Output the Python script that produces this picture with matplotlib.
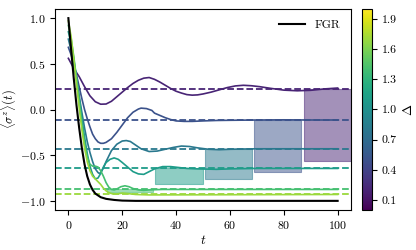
import matplotlib
matplotlib.use("Agg")
import matplotlib.pyplot as plt
import numpy as np
from matplotlib import cm, colors

plt.rcParams['font.family'] = 'serif'
plt.rcParams['font.serif'] = ['cmr10']
plt.rcParams['mathtext.fontset'] = 'cm'
plt.rcParams['axes.formatter.use_mathtext'] = True
plt.rcParams['font.size'] = 8.5

# ---- data ----
deltas = [0.2, 0.5, 0.8, 1.1, 1.4, 1.7]
levels = [0.22, -0.115, -0.43, -0.645, -0.875, -0.93]

t_a = [0, 2, 4, 6, 8, 10, 12, 14, 16, 18, 20, 22, 24, 26, 28, 30, 32, 34, 36, 38, 40, 42, 44, 46, 48, 50, 53, 56, 59, 62, 65, 68, 71, 75, 80, 85, 90, 95, 100]
y_a = [0.56, 0.45, 0.36, 0.25, 0.15, 0.085, 0.058, 0.06, 0.09, 0.14, 0.19, 0.24, 0.285, 0.32, 0.343, 0.35, 0.33, 0.30, 0.265, 0.23, 0.2, 0.18, 0.163, 0.157, 0.16, 0.17, 0.19, 0.215, 0.24, 0.258, 0.265, 0.26, 0.25, 0.232, 0.212, 0.205, 0.21, 0.225, 0.235]

t_b = [0, 1, 2, 3, 4, 5, 6, 7, 8, 9, 10, 11, 12, 13, 14, 16, 18, 20, 22, 24, 26, 27, 29, 31, 32, 34, 36, 38, 40, 43, 46, 50, 55, 60, 70, 80, 90, 100]
y_b = [0.68, 0.6, 0.5, 0.38, 0.25, 0.12, 0.0, -0.1, -0.19, -0.27, -0.32, -0.355, -0.37, -0.37, -0.36, -0.32, -0.25, -0.17, -0.09, -0.03, 0.005, 0.015, 0.01, -0.01, -0.04, -0.065, -0.09, -0.11, -0.125, -0.13, -0.13, -0.125, -0.12, -0.118, -0.115, -0.113, -0.115, -0.115]

t_c = [0, 1, 2, 3, 4, 5, 6, 7, 8, 9, 10, 11, 11.5, 12, 13, 14, 16, 18, 20, 21.5, 23, 25, 27, 30, 33, 36, 39, 42, 45, 48, 52, 56, 60, 70, 80, 90, 100]
y_c = [0.77, 0.65, 0.5, 0.33, 0.15, -0.03, -0.2, -0.35, -0.47, -0.57, -0.65, -0.69, -0.7, -0.69, -0.64, -0.57, -0.45, -0.38, -0.345, -0.34, -0.35, -0.39, -0.43, -0.46, -0.455, -0.435, -0.415, -0.40, -0.405, -0.42, -0.435, -0.44, -0.435, -0.43, -0.43, -0.43, -0.43]

t_d = [0, 1, 2, 3, 4, 5, 6, 7, 8, 9, 10, 11, 12, 13, 14, 15.5, 17, 18.5, 20, 22, 24, 26, 28, 30, 32, 35, 38, 41, 44, 48, 55, 60, 70, 100]
y_d = [0.85, 0.72, 0.55, 0.35, 0.13, -0.1, -0.3, -0.48, -0.62, -0.71, -0.76, -0.75, -0.7, -0.63, -0.58, -0.545, -0.53, -0.545, -0.58, -0.63, -0.68, -0.705, -0.71, -0.68, -0.65, -0.625, -0.625, -0.635, -0.645, -0.65, -0.655, -0.65, -0.645, -0.645]

t_e = [0, 1, 2, 3, 4, 5, 6, 7, 8, 9, 10, 11, 12, 13, 14, 15, 16, 17, 18, 19.5, 21, 22.5, 24, 26, 28, 30, 35, 100]
y_e = [0.92, 0.78, 0.58, 0.35, 0.1, -0.15, -0.37, -0.52, -0.6, -0.62, -0.62, -0.63, -0.67, -0.73, -0.8, -0.85, -0.875, -0.88, -0.87, -0.845, -0.835, -0.845, -0.865, -0.88, -0.885, -0.88, -0.875, -0.875]

t_f = [0, 1, 2, 3, 4, 5, 6, 7, 8, 9, 10, 11, 12, 13, 14, 15, 16, 18, 20, 22, 25, 30, 100]
y_f = [0.97, 0.8, 0.55, 0.28, 0.02, -0.22, -0.42, -0.57, -0.67, -0.73, -0.76, -0.79, -0.82, -0.86, -0.89, -0.91, -0.92, -0.925, -0.915, -0.92, -0.93, -0.935, -0.93]

t_fgr = [0, 1, 2, 3, 4, 5, 6, 7, 8, 9, 10, 12, 14, 17, 20, 25, 100]
y_fgr = [1.0, 0.66, 0.34, 0.05, -0.2, -0.42, -0.6, -0.73, -0.82, -0.88, -0.92, -0.96, -0.978, -0.99, -0.997, -1.0, -1.0]

curves_t = [t_a, t_b, t_c, t_d, t_e, t_f]
curves_y = [y_a, y_b, y_c, y_d, y_e, y_f]

# shaded windows: (series index, t_start, t_end, bottom)
rect_series = [0, 1, 2, 3, 4]
rect_start = [87.4, 69.0, 50.6, 32.3, 14.5]
rect_end = [105.0, 86.5, 68.3, 50.0, 31.5]
rect_bottom = [-0.56, -0.68, -0.76, -0.82, -0.90]

cbar_ticks = [0.1, 0.4, 0.7, 1.0, 1.3, 1.6, 1.9]

# ---- plot ----
fig = plt.figure(figsize=(4.16, 2.5), dpi=100)
ax = fig.add_axes([0.132, 0.16, 0.712, 0.804])
cax = fig.add_axes([0.870, 0.16, 0.024, 0.804])

norm = colors.Normalize(vmin=0.0, vmax=2.0)
cmap = plt.get_cmap('viridis')

for s, a, b, bot in zip(rect_series, rect_start, rect_end, rect_bottom):
    c = cmap(norm(deltas[s]))
    ax.fill_between([a, b], [bot, bot], [levels[s], levels[s]], color=c, alpha=0.5, zorder=1, linewidth=0.8)

for d, lv, tt, yy in zip(deltas, levels, curves_t, curves_y):
    c = cmap(norm(d))
    ax.plot(tt, yy, color=c, lw=1.2, zorder=3)
    ax.axhline(lv, color=c, lw=1.3, ls='--', zorder=2)

ax.plot(t_fgr, y_fgr, color='black', lw=1.5, zorder=4, label='FGR')

ax.set_xlim(-5, 105)
ax.set_ylim(-1.1, 1.1)
ax.set_xticks([0, 20, 40, 60, 80, 100])
ax.set_yticks([-1.0, -0.5, 0.0, 0.5, 1.0])
ax.tick_params(pad=3)
ax.set_xlabel(r'$t$', fontsize=9.5, labelpad=2)
ax.set_ylabel(r'$\langle\sigma^z\rangle(t)$', fontsize=9, labelpad=1)
ax.legend(loc='upper right', frameon=False, fontsize=8.5, handlelength=2.2)

sm = cm.ScalarMappable(norm=norm, cmap=cmap)
cb = fig.colorbar(sm, cax=cax)
cb.set_ticks(cbar_ticks)
cb.set_ticklabels([f'{v:.1f}' for v in cbar_ticks])
cb.set_label(r'$\Delta$', fontsize=9.5)

fig.savefig('out.png', dpi=100)
